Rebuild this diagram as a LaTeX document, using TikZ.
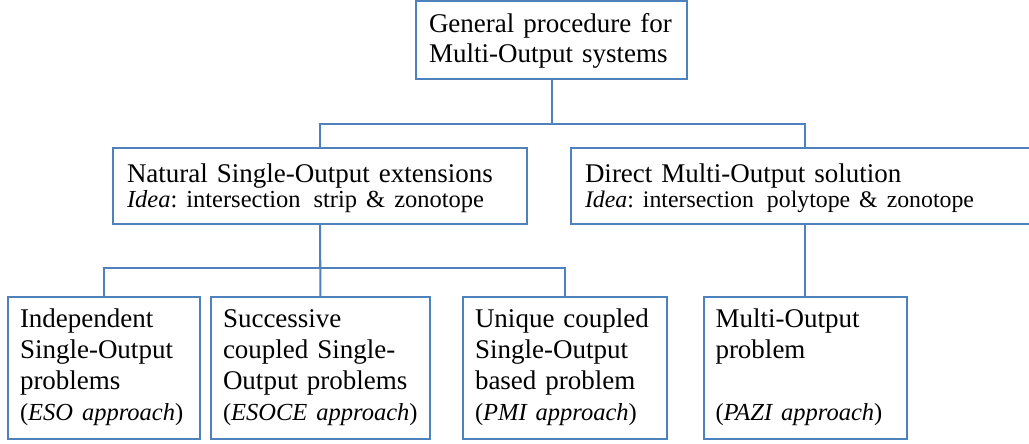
\documentclass[tikz,border=0pt]{standalone}
\usepackage{fontspec}
\setmainfont{Liberation Serif}
\definecolor{boxblue}{RGB}{79,129,189}
\newcommand{\lines}[2][0pt]{\raisebox{-#1}[\height][\depth]{\begin{tabular}{@{}l@{}}#2\end{tabular}}}
\newcommand{\smallsz}{\fontsize{24.5}{25}\selectfont}
\newcommand{\smallersz}{\fontsize{23.8}{25}\selectfont}
\begin{document}
\begin{tikzpicture}[x=1pt,y=-1pt,
  box/.style={draw=boxblue, line width=2pt, rectangle, anchor=north west, align=left,
    inner xsep=13pt, inner ysep=0pt, outer sep=0pt,
    font=\fontsize{27}{31}\selectfont,
    execute at begin node={\frenchspacing\renewcommand{\arraystretch}{1}}},
  midbox/.style={box, minimum height=76pt, font=\fontsize{27}{25}\selectfont, inner xsep=14pt},
  lowbox/.style={box, minimum height=142pt, inner xsep=12pt},
  conn/.style={draw=boxblue, line width=2pt}]
\clip (0,0) rectangle (1029,444);
\fill[white] (0,0) rectangle (1029,444);
\node[box, text width=245pt, minimum width=271pt, minimum height=78pt,
  font=\fontsize{27}{30}\selectfont] (top) at (416,1.5)
  {\lines[1.5pt]{General procedure for\\Multi-Output systems}};
\node[midbox, text width=386pt, minimum width=414pt] (nat) at (113,148)
  {\lines[3pt]{Natural Single-Output extensions\\{\smallsz\textit{Idea}: intersection\hspace{4pt} strip \& zonotope}}};
\node[midbox, text width=440pt, minimum width=468pt] (dir) at (571,148)
  {\lines[3pt]{Direct Multi-Output solution\\{\smallersz\textit{Idea}: intersection\hspace{4pt} polytope \& zonotope}}};
\node[lowbox, text width=168pt, minimum width=192pt] (b1) at (8,297)
  {\lines{Independent\\Single-Output\\problems\\{\smallsz(\textit{ESO approach})}}};
\node[lowbox, text width=195pt, minimum width=219pt] (b2) at (211,297)
  {\lines{Successive\\coupled Single-\\Output problems\\{\smallsz(\textit{ESOCE approach})}}};
\node[lowbox, text width=180pt, minimum width=204pt] (b3) at (463,297)
  {\lines{Unique coupled\\Single-Output\\based problem\\{\smallsz(\textit{PMI approach})}}};
\node[lowbox, text width=179pt, minimum width=203pt] (b4) at (703.5,297)
  {\lines{Multi-Output\\problem\\~\\{\smallsz(\textit{PAZI approach})}}};
\draw[conn] (top.south) -- (top.south |- 0,124) -| (nat.north);
\draw[conn] (top.south |- 0,124) -| (dir.north);
\draw[conn] (nat.south) -- (nat.south |- 0,268) -| (b1.north);
\draw[conn] (nat.south |- 0,268) -| (b3.north);
\draw[conn] (nat.south) -- (b2.north);
\draw[conn] (dir.south) -- (b4.north);
\end{tikzpicture}
\end{document}
